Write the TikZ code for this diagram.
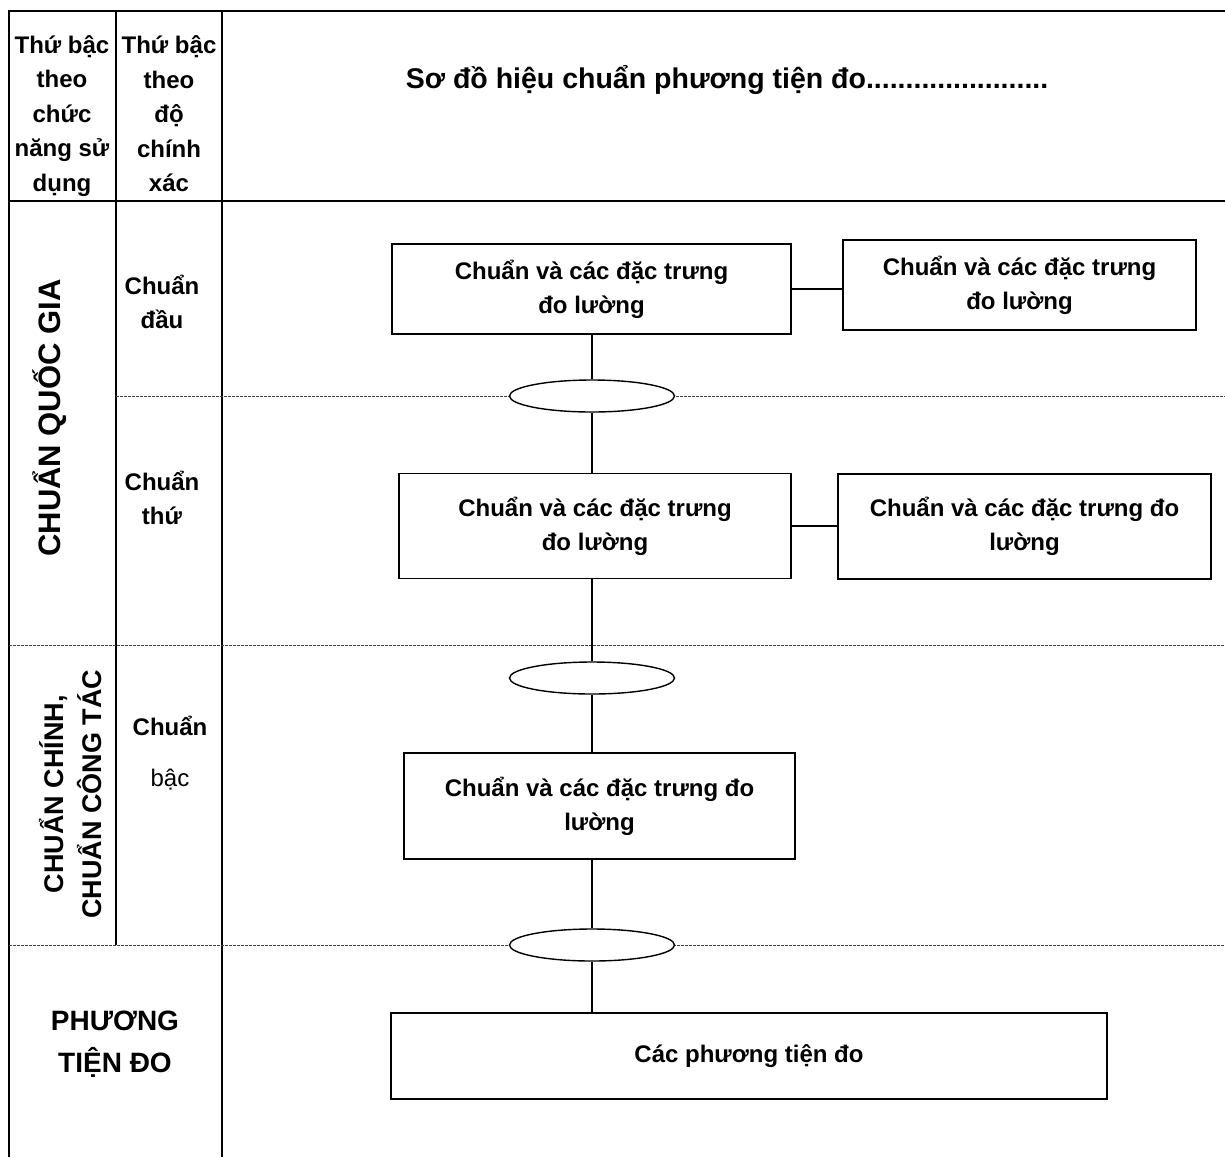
\documentclass[tikz,border=0pt]{standalone}
\usepackage{fontspec}
\setmainfont{Liberation Sans}
\usetikzlibrary{shapes,arrows,positioning}

\begin{document}
\begin{tikzpicture}[x=1pt,y=-1pt]
\tikzstyle{block}=[draw,line width=1.6pt,inner sep=0pt,align=center,font=\fontsize{24}{34}\selectfont\bfseries]
\tikzstyle{joint}=[draw,ellipse,fill=white,line width=1.4pt,minimum width=165pt,minimum height=32pt,inner sep=0pt]
\tikzstyle{link}=[line width=1.4pt]
\tikzstyle{frame}=[line width=2.2pt]
\tikzstyle{level}=[black!75,line width=1pt,dash pattern=on 2.5pt off 1.5pt]
\tikzstyle{label}=[align=center,inner sep=0pt,font=\fontsize{24}{34.5}\selectfont\bfseries]

\useasboundingbox (0,0) rectangle (1225,1157);

\draw [frame] (1225,11) -- (9,11) -- (9,1157);
\draw [frame] (9,201) -- (1225,201);
\draw [frame] (116,11) -- (116,945);
\draw [frame] (222,11) -- (222,1157);
\draw [level] (116,396) -- (1225,396);
\draw [level] (9,645) -- (1225,645);
\draw [level] (9,945) -- (1225,945);

\node (use) [label] at (62,116) {Thứ bậc\\theo\\chức\\năng sử\\dụng};
\node (acc) [label] at (169,114) {Thứ bậc\\theo\\độ\\chính\\xác};
\node (title) [label,font=\fontsize{28.5}{34}\selectfont\bfseries] at (727,80) {Sơ đồ hiệu chuẩn phương tiện đo.......................};

\node (nat) [label,rotate=90,font=\fontsize{31}{36}\selectfont\bfseries] at (50,418) {CHUẨN QUỐC GIA};
\node (first) [label] at (162,302) {Chuẩn\\đầu};
\node (second) [label] at (162,498) {Chuẩn\\thứ};
\node (work) [label,rotate=90,font=\fontsize{27}{38}\selectfont\bfseries] at (71,794) {CHUẨN CHÍNH,\\CHUẨN CÔNG TÁC};
\node (grade) [label] at (170,753) {Chuẩn\\[16pt]\mdseries bậc};
\node (tools) [label,font=\fontsize{28}{42}\selectfont\bfseries] at (115,1044) {PHƯƠNG\\TIỆN ĐO};

\node (s1) [block,minimum width=399pt,minimum height=90pt] at (591.5,289) {Chuẩn và các đặc trưng\\đo lường};
\node (s1r) [block,minimum width=353pt,minimum height=90pt] at (1019.5,285) {Chuẩn và các đặc trưng\\đo lường};
\node (s2) [block,minimum width=392pt,minimum height=105pt] at (595,526) {Chuẩn và các đặc trưng\\đo lường};
\node (s2r) [block,minimum width=373pt,minimum height=105pt] at (1024.5,526.5) {Chuẩn và các đặc trưng đo\\lường};
\node (s3) [block,minimum width=391pt,minimum height=106pt] at (599.5,806) {Chuẩn và các đặc trưng đo\\lường};
\node (dev) [block,minimum width=716pt,minimum height=86pt] at (749,1056) {Các phương tiện đo};

\node (e1) [joint] at (592,396) {};
\node (e2) [joint] at (592,678) {};
\node (e3) [joint] at (592,945) {};

\draw [link] (s1.east) -- (s1.east -| s1r.west);
\draw [link] (s2.east) -- (s2.east -| s2r.west);
\draw [link] (e1.north) -- (e1.north |- s1.south);
\draw [link] (e1.south) -- (e1.south |- s2.north);
\draw [link] (e2.north) -- (e2.north |- s2.south);
\draw [link] (e2.south) -- (e2.south |- s3.north);
\draw [link] (e3.north) -- (e3.north |- s3.south);
\draw [link] (e3.south) -- (e3.south |- dev.north);
\end{tikzpicture}
\end{document}
